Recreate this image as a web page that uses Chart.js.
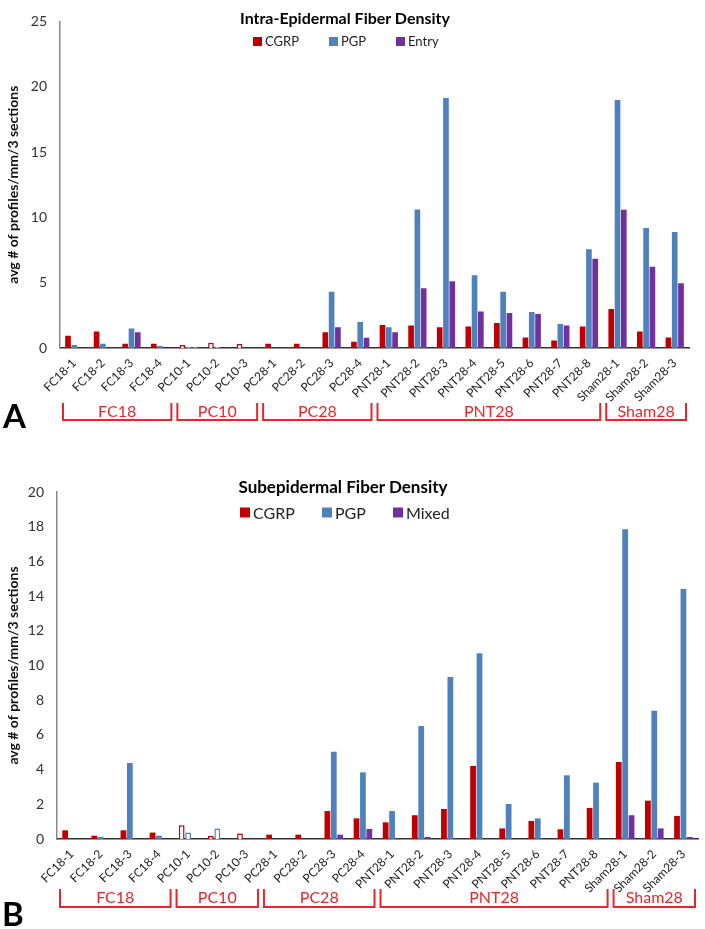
<!DOCTYPE html>
<html>
<head>
<meta charset="utf-8">
<script src="https://cdn.jsdelivr.net/npm/chart.js@4.4.1/dist/chart.umd.min.js"></script>
<style>
  body { margin: 0; background: #fff; font-family: Lato, "Open Sans", sans-serif; }
  #wrap { position: relative; width: 705px; height: 929px; overflow: hidden; }
  canvas { position: absolute; left: 0; }
  .title { position: absolute; font-weight: bold; color: #000; white-space: nowrap; transform: translate(-50%, -50%); }
  .leg { position: absolute; white-space: nowrap; color: #222; transform: translateY(-50%); display: flex; align-items: center; }
  .leg i { display: inline-block; margin-right: 3px; }
  .panel { position: absolute; font-weight: bold; font-size: 33px; line-height: 1; color: #000; }
</style>
</head>
<body>
<div id="wrap">
  <canvas id="chartA" width="705" height="460" style="top:0"></canvas>
  <canvas id="chartB" width="705" height="469" style="top:460px"></canvas>

  <div class="title" style="left:345px;top:17px;font-size:16px">Intra-Epidermal Fiber Density</div>
  <div class="leg" style="left:253px;top:41px;font-size:13px"><i style="width:9px;height:9px;background:#C00000"></i>CGRP</div>
  <div class="leg" style="left:329px;top:41px;font-size:13px"><i style="width:9px;height:9px;background:#4F81BD"></i>PGP</div>
  <div class="leg" style="left:396px;top:41px;font-size:13px"><i style="width:9px;height:9px;background:#7030A0"></i>Entry</div>
  <div class="panel" style="left:3px;top:399px">A</div>

  <div class="title" style="left:343px;top:486px;font-size:17px">Subepidermal Fiber Density</div>
  <div class="leg" style="left:240px;top:512px;font-size:16px"><i style="width:10px;height:10px;background:#C00000"></i>CGRP</div>
  <div class="leg" style="left:322px;top:512px;font-size:16px"><i style="width:10px;height:10px;background:#4F81BD"></i>PGP</div>
  <div class="leg" style="left:393px;top:512px;font-size:16px"><i style="width:10px;height:10px;background:#7030A0"></i>Mixed</div>
  <div class="panel" style="left:2px;top:897px">B</div>
</div>
<script>
const labels = ['FC18-1', 'FC18-2', 'FC18-3', 'FC18-4', 'PC10-1', 'PC10-2', 'PC10-3',
  'PC28-1', 'PC28-2', 'PC28-3', 'PC28-4', 'PNT28-1', 'PNT28-2', 'PNT28-3', 'PNT28-4',
  'PNT28-5', 'PNT28-6', 'PNT28-7', 'PNT28-8', 'Sham28-1', 'Sham28-2', 'Sham28-3'];
const groups = ['FC18', 'PC10', 'PC28', 'PNT28', 'Sham28'];
const groupSizes = [4, 3, 4, 8, 3];
const hollowGroup = 'PC10';

// A - intra-epidermal
const intraCGRP = [0.94, 1.27, 0.33, 0.33, 0.23, 0.4, 0.3, 0.33, 0.33, 1.2, 0.48,
  1.76, 1.73, 1.58, 1.65, 1.91, 0.81, 0.58, 1.65, 2.99, 1.27, 0.81];
const intraPGP = [0.23, 0.33, 1.5, 0.15, 0.08, 0.08, 0, 0, 0, 4.3, 1.99,
  1.58, 10.6, 19.14, 5.56, 4.31, 2.76, 1.84, 7.55, 18.99, 9.19, 8.88];
const intraEntry = [0, 0, 1.2, 0, 0.08, 0, 0, 0, 0, 1.58, 0.79,
  1.2, 4.57, 5.1, 2.8, 2.68, 2.6, 1.73, 6.84, 10.59, 6.22, 4.95];

// B - subepidermal
const subCGRP = [0.5, 0.19, 0.5, 0.37, 0.79, 0.17, 0.31, 0.25, 0.25, 1.61, 1.19,
  0.96, 1.37, 1.73, 4.21, 0.61, 1.04, 0.56, 1.79, 4.44, 2.21, 1.33];
const subPGP = [0, 0.12, 4.38, 0.19, 0.37, 0.61, 0, 0, 0, 5.03, 3.84,
  1.61, 6.51, 9.34, 10.7, 2.02, 1.19, 3.67, 3.25, 17.85, 7.39, 14.41];
const subMixed = [0, 0, 0, 0, 0, 0, 0, 0, 0, 0.25, 0.58,
  0, 0.12, 0, 0, 0, 0, 0, 0, 1.37, 0.61, 0.12];

// which categories are drawn as outlines only
const hollow = [];
groups.forEach((g, i) => {
  for (let k = 0; k < groupSizes[i]; k++) hollow.push(g === hollowGroup);
});

function bars(label, data, color) {
  return {
    label: label,
    data: data,
    backgroundColor: ctx => hollow[ctx.dataIndex] ? '#fff' : color,
    borderColor: color,
    borderWidth: ctx => hollow[ctx.dataIndex] ? 1.5 : 0,
    borderSkipped: 'start',
    categoryPercentage: 0.66,
    barPercentage: 0.9
  };
}

const bracketPlugin = {
  id: 'groupBrackets',
  afterDraw(chart, args, opts) {
    const x = chart.scales.x;
    const ctx = chart.ctx;
    const step = x.getPixelForValue(1) - x.getPixelForValue(0);
    let start = 0;
    ctx.save();
    ctx.strokeStyle = '#E8262A';
    ctx.fillStyle = '#E8262A';
    ctx.lineWidth = 2;
    ctx.font = '16px Lato';
    ctx.textAlign = 'center';
    ctx.textBaseline = 'middle';
    groups.forEach((g, i) => {
      const end = start + groupSizes[i] - 1;
      const l = x.getPixelForValue(start) - step / 2 + 3;
      const r = x.getPixelForValue(end) + step / 2 - 3;
      ctx.beginPath();
      ctx.moveTo(l, opts.top);
      ctx.lineTo(l, opts.bottom);
      ctx.lineTo(r, opts.bottom);
      ctx.lineTo(r, opts.top);
      ctx.stroke();
      ctx.fillText(g, (l + r) / 2, (opts.top + opts.bottom) / 2);
      start = end + 1;
    });
    ctx.restore();
  }
};

function makeChart(id, sets, yMax, yStep, pad, axisW, axisH, bracket) {
  return new Chart(document.getElementById(id), {
    type: 'bar',
    data: { labels: labels, datasets: sets },
    plugins: [bracketPlugin],
    options: {
      responsive: false,
      animation: false,
      layout: { padding: pad },
      plugins: {
        legend: { display: false },
        title: { display: false },
        tooltip: { enabled: false },
        groupBrackets: bracket
      },
      scales: {
        x: {
          grid: { display: false, drawTicks: false },
          border: { color: '#333', width: 1.5 },
          ticks: {
            autoSkip: false, minRotation: 45, maxRotation: 45, padding: 8,
            color: '#222', font: { family: 'Lato', size: 12 }
          },
          afterFit(s) { s.height = axisH; }
        },
        y: {
          min: 0, max: yMax,
          grid: { display: false, drawTicks: false },
          border: { color: '#888', width: 1.5 },
          ticks: { stepSize: yStep, padding: 13, color: '#333', font: { family: 'Lato', size: 14 } },
          title: {
            display: true, text: 'avg # of profiles/mm/3 sections', color: '#111',
            font: { family: 'Lato', size: 14, weight: 'bold' }, padding: { top: 5, bottom: 0 }
          },
          afterFit(s) { s.width = axisW; }
        }
      }
    }
  });
}

makeChart('chartA', [
  bars('CGRP', intraCGRP, '#C00000'),
  bars('PGP', intraPGP, '#4F81BD'),
  bars('Entry', intraEntry, '#7030A0')
], 25, 5, { top: 21, right: 16, left: 0, bottom: 0 }, 60, 112, { top: 403, bottom: 420 });

makeChart('chartB', [
  bars('CGRP', subCGRP, '#C00000'),
  bars('PGP', subPGP, '#4F81BD'),
  bars('Mixed', subMixed, '#7030A0')
], 20, 2, { top: 32, right: 7, left: 0, bottom: 0 }, 57, 90, { top: 429, bottom: 447 });
</script>
</body>
</html>
